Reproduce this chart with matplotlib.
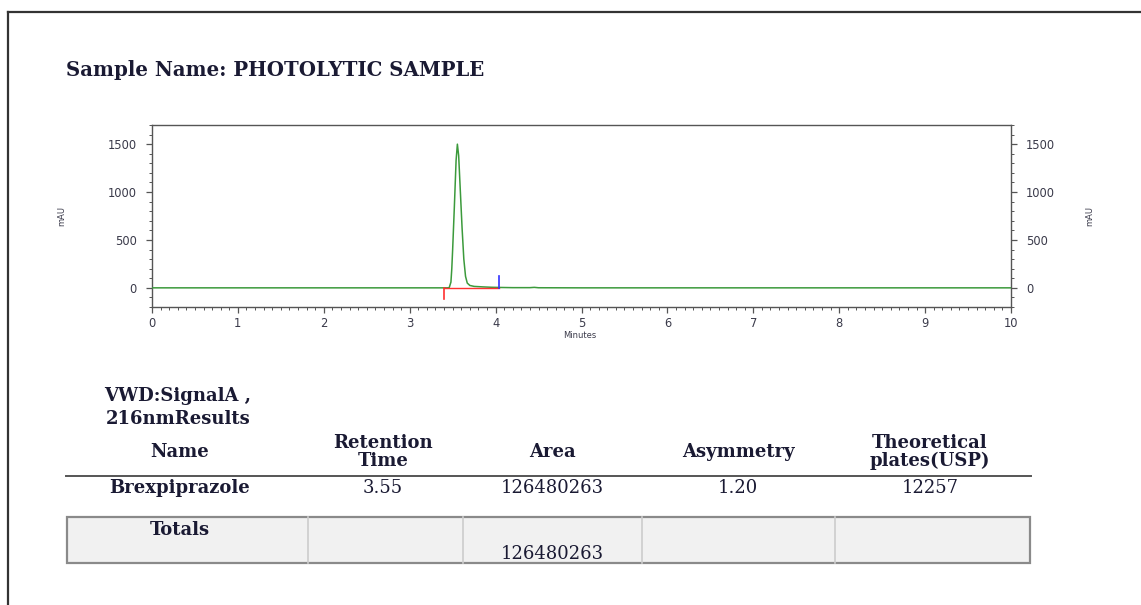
import numpy as np
import matplotlib.pyplot as plt
from matplotlib.patches import Rectangle
from matplotlib.lines import Line2D
from matplotlib.ticker import MultipleLocator

W, H = 1141, 605

# chromatogram trace (minutes, mAU)
time_min = [0.0, 3.44, 3.46, 3.48, 3.49, 3.50, 3.52, 3.54, 3.555, 3.57, 3.59, 3.61,
            3.63, 3.65, 3.67, 3.70, 3.75, 3.85, 3.95, 4.05, 4.20, 4.40, 4.45, 4.50, 5.0, 10.0]
signal_mau = [0, 0, 2, 60, 200, 400, 850, 1330, 1500, 1380, 1000, 620,
              300, 120, 50, 25, 15, 10, 6, 4, 2, 2, 5, 1, 0, 0]

# integration baseline and peak start / end markers
base_start, base_end = 3.40, 4.04
start_mark = -120
end_mark = 125

sample_name = "Sample Name: PHOTOLYTIC SAMPLE"
signal_title = ["VWD:SignalA ,", "216nmResults"]
headers = ["Name", "Retention\nTime", "Area", "Asymmetry", "Theoretical\nplates(USP)"]
row = ["Brexpiprazole", "3.55", "126480263", "1.20", "12257"]
totals = ["Totals", "", "126480263", "", ""]


def fx(x):
    return x / W


def fy(y):
    return 1 - y / H


fig = plt.figure(figsize=(W / 100, H / 100), dpi=100)
fig.patch.set_facecolor("white")

# outer page frame (left and top edges only)
fig.add_artist(Line2D([fx(8), fx(8)], [fy(12), 0], color="#333333", lw=1.6))
fig.add_artist(Line2D([fx(8), 1], [fy(12), fy(12)], color="#333333", lw=1.6))

serif = "DejaVu Serif"
ink = "#1a1a33"
fs = 13

fig.text(fx(66), fy(70), sample_name, family=serif, weight="bold", fontsize=14.2,
         color=ink, va="center", ha="left")

# chart
ax = fig.add_axes([fx(152), fy(307), fx(1011 - 152), (307 - 125) / H])
ax.plot(time_min, signal_mau, color="#3c9a3c", lw=1.1, zorder=3)
ax.plot([base_start, base_end], [3, 3], color="#ff3030", lw=1.0, zorder=4)
ax.plot([base_start, base_start], [0, start_mark], color="#ff3030", lw=1.2, zorder=4)
ax.plot([base_end, base_end], [0, end_mark], color="#3030ff", lw=1.2, zorder=4)

ax.set_xlim(0, 10)
ax.set_ylim(-200, 1700)
ax.xaxis.set_major_locator(MultipleLocator(1))
ax.xaxis.set_minor_locator(MultipleLocator(0.1))
ax.yaxis.set_major_locator(MultipleLocator(500))
ax.yaxis.set_minor_locator(MultipleLocator(100))
ax.tick_params(which="both", direction="out", colors="#555555", labelcolor="#3a3a4a",
               labelsize=8.3, right=True, labelright=True)
ax.tick_params(which="major", length=4, width=0.9)
ax.tick_params(which="minor", length=2, width=0.7)
ax.tick_params(axis="y", pad=7)
ax.tick_params(axis="x", pad=3)
for s in ax.spines.values():
    s.set_color("#555555")
    s.set_linewidth(1.0)

fig.text(fx(580), fy(336), "Minutes", fontsize=6, color="#3a3a4a", ha="center", va="center")
fig.text(fx(62), fy(216), "mAU", fontsize=6, color="#3a3a4a", ha="center", va="center", rotation=90)
fig.text(fx(1090), fy(216), "mAU", fontsize=6, color="#3a3a4a", ha="center", va="center", rotation=90)

# results table
col_x = [180, 383, 552, 738, 930]
dividers = [308, 463, 642, 835]

fig.text(fx(178), fy(396), signal_title[0], family=serif, weight="bold", fontsize=fs,
         color=ink, ha="center", va="center")
fig.text(fx(178), fy(419), signal_title[1], family=serif, weight="bold", fontsize=fs,
         color=ink, ha="center", va="center")

for x, h in zip(col_x, headers):
    fig.text(fx(x), fy(452), h, family=serif, weight="bold", fontsize=fs, color=ink,
             ha="center", va="center", linespacing=0.95)

fig.add_artist(Line2D([fx(66), fx(1031)], [fy(476), fy(476)], color="#555555", lw=1.4))

for i, (x, v) in enumerate(zip(col_x, row)):
    fig.text(fx(x), fy(488), v, family=serif, weight="bold" if i == 0 else "normal",
             fontsize=fs, color=ink, ha="center", va="center")

fig.add_artist(Rectangle((fx(67), fy(563)), fx(1030 - 67), (563 - 517) / H,
                         facecolor="#f1f1f1", edgecolor="#8a8a8a", lw=1.6,
                         transform=fig.transFigure))
for d in dividers:
    fig.add_artist(Line2D([fx(d), fx(d)], [fy(563), fy(517)], color="#cccccc", lw=1.2))

fig.text(fx(col_x[0]), fy(530), totals[0], family=serif, weight="bold", fontsize=fs,
         color=ink, ha="center", va="center")
fig.text(fx(col_x[2]), fy(554), totals[2], family=serif, fontsize=fs,
         color=ink, ha="center", va="center")

fig.savefig("out.png", dpi=100)
